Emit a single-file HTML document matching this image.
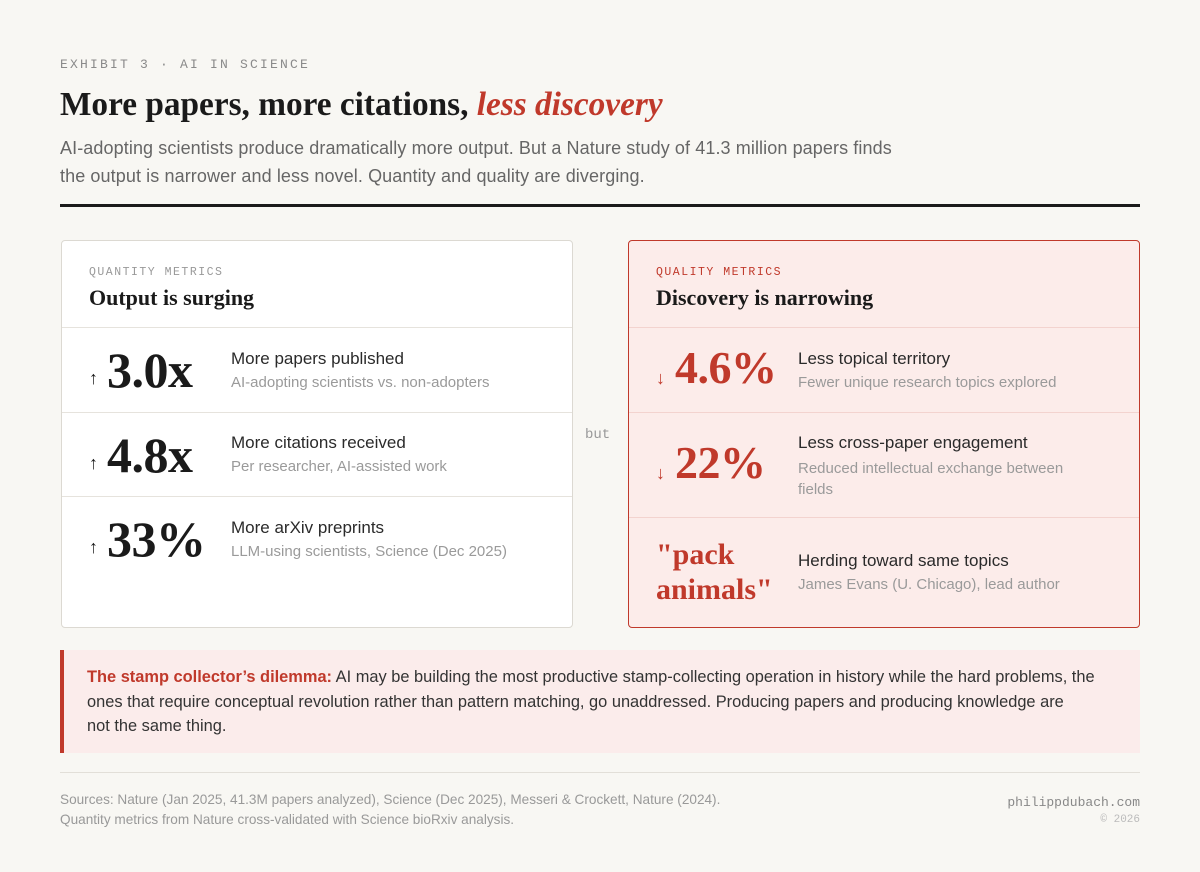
<!DOCTYPE html>
<html><head><meta charset="utf-8"><style>
*{margin:0;padding:0;box-sizing:border-box}
body{width:1200px;height:872px;background:#f8f7f3;position:relative;font-family:"Liberation Sans",sans-serif;overflow:hidden}
.a{position:absolute;white-space:nowrap}
.mono{font-family:"Liberation Mono",monospace}
.serif{font-family:"Liberation Serif",serif}
.card{position:absolute;top:240px;height:388px;width:512px;border-radius:4px}
.hr{position:absolute;left:0;right:0;height:1px}
.big{font-family:"Liberation Serif",serif;font-weight:bold;font-size:50px;letter-spacing:-0.5px}
.arr{font-size:18px;font-weight:bold}
.t1{font-size:17px;color:#2a2a2a}
.t2{font-size:15px;color:#9a9a9a}
</style></head><body>
<div class="a mono" style="left:60px;top:57px;font-size:13px;letter-spacing:2.2px;color:#8a8a8a">EXHIBIT 3 · AI IN SCIENCE</div>
<div class="a serif" style="left:60px;top:86px;font-size:33.3px;font-weight:bold;color:#1a1a1a">More papers, more citations, <i style="color:#c0392b">less discovery</i></div>
<div class="a" style="left:60px;top:134px;font-size:18px;line-height:28px;color:#666;letter-spacing:0.1px">AI-adopting scientists produce dramatically more output. But a Nature study of 41.3 million papers finds<br>the output is narrower and less novel. Quantity and quality are diverging.</div>
<div class="a" style="left:60px;top:204px;width:1080px;height:3px;background:#1a1a1a"></div>

<div class="card" style="left:61px;background:#fff;border:1px solid #dcd9d2">
 <div class="a mono" style="left:27px;top:25px;font-size:11.5px;letter-spacing:1.5px;color:#999">QUANTITY METRICS</div>
 <div class="a serif" style="left:27px;top:44px;font-size:22px;font-weight:bold;color:#1a1a1a">Output is surging</div>
 <div class="hr" style="top:86px;background:#e6e3dd"></div>
 <div class="a arr" style="left:27px;top:127px;color:#1a1a1a">↑</div>
 <div class="a big" style="left:45px;top:100px;color:#1a1a1a">3.0x</div>
 <div class="a t1" style="left:169px;top:108px">More papers published</div>
 <div class="a t2" style="left:169px;top:133px">AI-adopting scientists vs. non-adopters</div>
 <div class="hr" style="top:171px;background:#e6e3dd"></div>
 <div class="a arr" style="left:27px;top:212px;color:#1a1a1a">↑</div>
 <div class="a big" style="left:45px;top:185px;color:#1a1a1a">4.8x</div>
 <div class="a t1" style="left:169px;top:192px">More citations received</div>
 <div class="a t2" style="left:169px;top:217px">Per researcher, AI-assisted work</div>
 <div class="hr" style="top:255px;background:#e6e3dd"></div>
 <div class="a arr" style="left:27px;top:296px;color:#1a1a1a">↑</div>
 <div class="a big" style="left:45px;top:269px;color:#1a1a1a">33%</div>
 <div class="a t1" style="left:169px;top:277px">More arXiv preprints</div>
 <div class="a t2" style="left:169px;top:302px">LLM-using scientists, Science (Dec 2025)</div>
</div>
<div class="a mono" style="left:585px;top:427px;font-size:14px;color:#999">but</div>
<div class="card" style="left:628px;background:#fcecea;border:1px solid #c0392b">
 <div class="a mono" style="left:27px;top:25px;font-size:11.5px;letter-spacing:1.5px;color:#c0392b">QUALITY METRICS</div>
 <div class="a serif" style="left:27px;top:44px;font-size:22px;font-weight:bold;color:#1a1a1a">Discovery is narrowing</div>
 <div class="hr" style="top:86px;background:#f3d3cf"></div>
 <div class="a arr" style="left:27px;top:127px;color:#c0392b">↓</div>
 <div class="a big" style="left:46px;top:100px;color:#c0392b;font-size:46px">4.6%</div>
 <div class="a t1" style="left:169px;top:108px">Less topical territory</div>
 <div class="a t2" style="left:169px;top:133px">Fewer unique research topics explored</div>
 <div class="hr" style="top:171px;background:#f3d3cf"></div>
 <div class="a arr" style="left:27px;top:222px;color:#c0392b">↓</div>
 <div class="a big" style="left:46px;top:195px;color:#c0392b;font-size:46px">22%</div>
 <div class="a t1" style="left:169px;top:192px">Less cross-paper engagement</div>
 <div class="a t2" style="left:169px;top:217px;line-height:21px">Reduced intellectual exchange between<br>fields</div>
 <div class="hr" style="top:276px;background:#f3d3cf"></div>
 <div class="a serif" style="left:27px;top:296px;font-size:30px;font-weight:bold;line-height:35px;color:#c0392b">"pack<br>animals"</div>
 <div class="a t1" style="left:169px;top:310px">Herding toward same topics</div>
 <div class="a t2" style="left:169px;top:335px">James Evans (U. Chicago), lead author</div>
</div>

<div class="a" style="left:60px;top:650px;width:1080px;height:103px;background:#fbeceb;border-left:4px solid #c0392b"></div>
<div class="a" style="left:87px;top:665px;font-size:16.4px;line-height:24.5px;color:#333;white-space:nowrap"><b style="color:#c0392b">The stamp collector’s dilemma:</b> AI may be building the most productive stamp-collecting operation in history while the hard problems, the<br>ones that require conceptual revolution rather than pattern matching, go unaddressed. Producing papers and producing knowledge are<br>not the same thing.</div>
<div class="a" style="left:60px;top:772px;width:1080px;height:1px;background:#e2dfd8"></div>
<div class="a" style="left:60px;top:790px;font-size:13.6px;line-height:20px;color:#999">Sources: Nature (Jan 2025, 41.3M papers analyzed), Science (Dec 2025), Messeri &amp; Crockett, Nature (2024).<br>Quantity metrics from Nature cross-validated with Science bioRxiv analysis.</div>
<div class="a mono" style="right:60px;top:795px;font-size:13px;color:#888;text-align:right">philippdubach.com</div>
<div class="a mono" style="right:60px;top:814px;font-size:11px;color:#bbb;text-align:right">© 2026</div>
</body></html>
